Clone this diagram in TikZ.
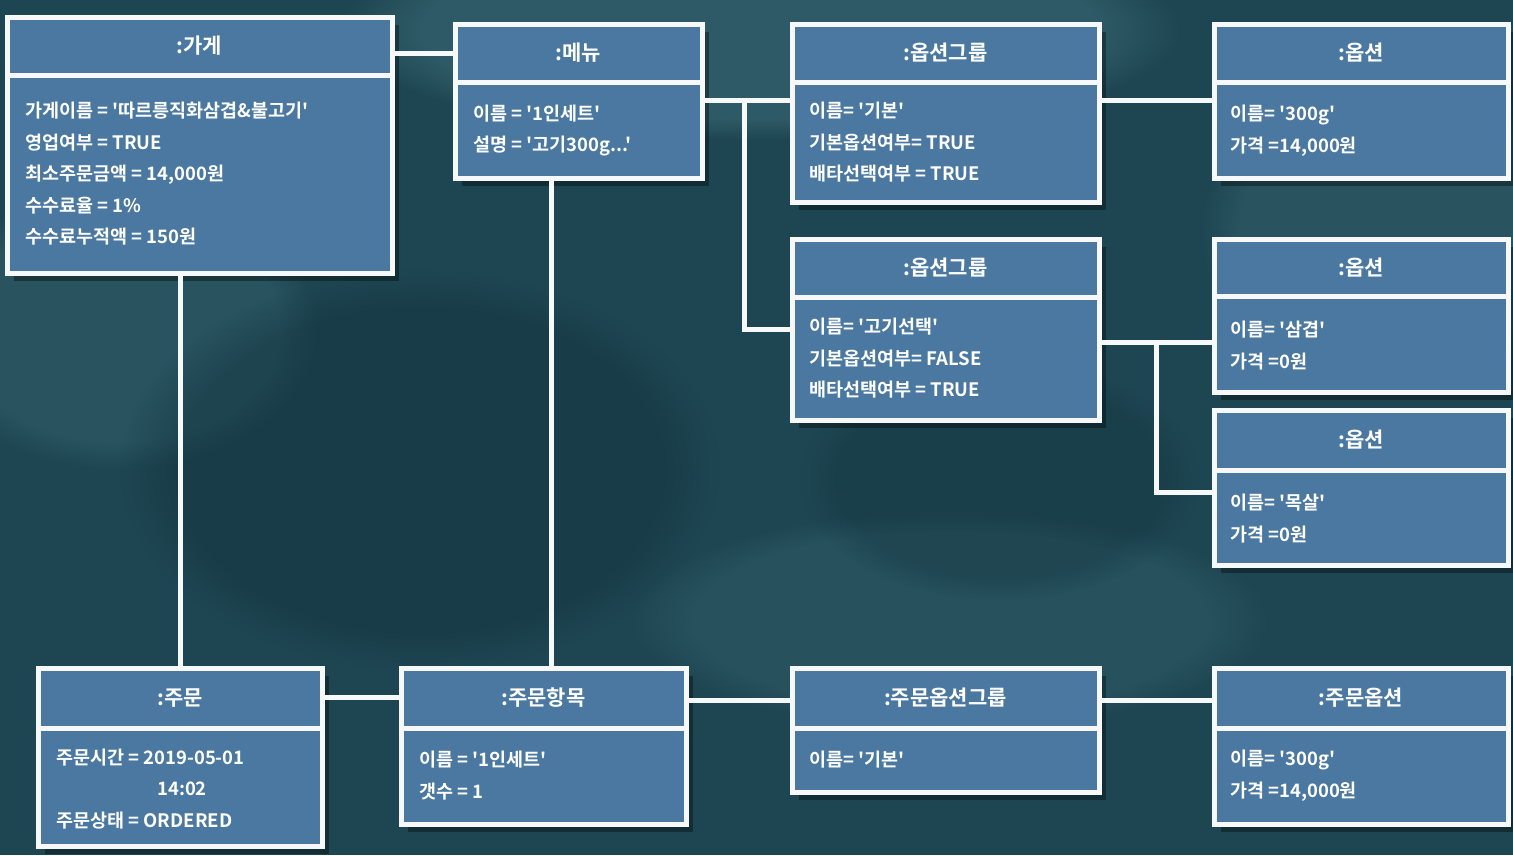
\documentclass[tikz,border=0pt]{standalone}
\usepackage{fontspec}
\newfontfamily\krfont{Noto Sans CJK KR Bold}
\usetikzlibrary{shadows,fadings,calc}
\definecolor{bg}{HTML}{1E4652}
\definecolor{bglight}{HTML}{3B6C78}
\definecolor{bgdark}{HTML}{12323C}
\definecolor{boxblue}{HTML}{4A78A0}
\definecolor{rim}{HTML}{F6F8FA}
\tikzset{
 objbox/.style={draw=rim, fill=boxblue, line width=5pt, anchor=north west, inner sep=0pt, outer sep=0pt,
   drop shadow={shadow xshift=7pt, shadow yshift=-8pt, opacity=0.35, fill=black}},
 hdrbox/.style={draw=rim, fill=boxblue, line width=5pt, anchor=north west, inner sep=0pt, outer sep=0pt,
   text=white, font=\krfont\fontsize{21}{25}\selectfont},
 bodytxt/.style={anchor=west, inner sep=0pt, align=left, text=white, font=\krfont\fontsize{18.5}{31.5}\selectfont},
 conn/.style={draw=rim, line width=5pt, line join=miter},
 blob/.style={path fading=circle with fuzzy edge 20 percent},
}
\begin{document}
\begin{tikzpicture}[x=1pt,y=-1pt]
\fill[bg] (0,0) rectangle (1513,855);
\useasboundingbox (0,0) rectangle (1513,855);
% background texture
\fill[bglight, opacity=0.55, blob] (760,30) ellipse (420 and 110);
\fill[bglight, opacity=0.35, blob] (1400,230) ellipse (200 and 160);
\fill[bglight, opacity=0.35, blob] (120,330) ellipse (200 and 140);
\fill[bglight, opacity=0.30, blob] (950,620) ellipse (320 and 110);
\fill[bgdark, opacity=0.45, blob] (420,470) ellipse (300 and 200);
\fill[bgdark, opacity=0.35, blob] (1000,480) ellipse (200 and 120);

% ---- boxes ----
\node[objbox, minimum width=385pt, minimum height=256pt] (store) at (7,17) {};
\node[hdrbox, minimum width=385pt, minimum height=58pt] (store-h) at (7,17) {:가게};
\node[bodytxt] (store-t) at (25,174) {가게이름 = '따르릉직화삼겹\&불고기'\\영업여부 = TRUE\\최소주문금액 = 14,000원\\수수료율 = 1\%\\수수료누적액 = 150원};

\node[objbox, minimum width=247pt, minimum height=154pt] (menu) at (455,24) {};
\node[hdrbox, minimum width=247pt, minimum height=58pt] (menu-h) at (455,24) {:메뉴};
\node[bodytxt] (menu-t) at (473,130.5) {이름 = '1인세트'\\설명 = '고기300g...'};

\node[objbox, minimum width=307pt, minimum height=178pt] (og1) at (792,24) {};
\node[hdrbox, minimum width=307pt, minimum height=58pt] (og1-h) at (792,24) {:옵션그룹};
\node[bodytxt] (og1-t) at (809,142.5) {이름= '기본'\\기본옵션여부= TRUE\\배타선택여부 = TRUE};

\node[objbox, minimum width=294pt, minimum height=154pt] (opt1) at (1214,24) {};
\node[hdrbox, minimum width=294pt, minimum height=58pt] (opt1-h) at (1214,24) {:옵션};
\node[bodytxt] (opt1-t) at (1230,130.5) {이름= '300g'\\가격 =14,000원};

\node[objbox, minimum width=307pt, minimum height=181pt] (og2) at (792,239) {};
\node[hdrbox, minimum width=307pt, minimum height=58pt] (og2-h) at (792,239) {:옵션그룹};
\node[bodytxt] (og2-t) at (809,358.5) {이름= '고기선택'\\기본옵션여부= FALSE\\배타선택여부 = TRUE};

\node[objbox, minimum width=294pt, minimum height=153pt] (opt2) at (1214,239) {};
\node[hdrbox, minimum width=294pt, minimum height=57pt] (opt2-h) at (1214,239) {:옵션};
\node[bodytxt] (opt2-t) at (1230,345.5) {이름= '삼겹'\\가격 =0원};

\node[objbox, minimum width=294pt, minimum height=155pt] (opt3) at (1214,410) {};
\node[hdrbox, minimum width=294pt, minimum height=60pt] (opt3-h) at (1214,410) {:옵션};
\node[bodytxt] (opt3-t) at (1230,518.5) {이름= '목살'\\가격 =0원};

\node[objbox, minimum width=284pt, minimum height=178pt] (order) at (38,668) {};
\node[hdrbox, minimum width=284pt, minimum height=60pt] (order-h) at (38,668) {:주문};
\node[bodytxt] (order-t) at (56,789) {주문시간 = 2019-05-01\\\hspace*{101pt}14:02\\주문상태 = ORDERED};

\node[objbox, minimum width=285pt, minimum height=156pt] (item) at (401,668) {};
\node[hdrbox, minimum width=285pt, minimum height=60pt] (item-h) at (401,668) {:주문항목};
\node[bodytxt] (item-t) at (419,775.5) {이름 = '1인세트'\\갯수 = 1};

\node[objbox, minimum width=307pt, minimum height=124pt] (oog) at (792,668) {};
\node[hdrbox, minimum width=307pt, minimum height=60pt] (oog-h) at (792,668) {:주문옵션그룹};
\node[bodytxt] (oog-t) at (809,760) {이름= '기본'};

\node[objbox, minimum width=294pt, minimum height=156pt] (oopt) at (1214,668) {};
\node[hdrbox, minimum width=294pt, minimum height=60pt] (oopt-h) at (1214,668) {:주문옵션};
\node[bodytxt] (oopt-t) at (1230,775.5) {이름= '300g'\\가격 =14,000원};

% ---- connector helper coordinates ----
\coordinate (ya) at (0,53);
\coordinate (ja) at (744,100);
\coordinate (jb) at (744,329);
\coordinate (jc) at (1156,342);
\coordinate (jd) at (1156,492);
\coordinate (xa) at (180,0);
\coordinate (xb) at (551,0);
\coordinate (yb) at (0,697);
\coordinate (yc) at (0,700);

% ---- connectors ----
\draw[conn] (store.east |- ya) -- (menu.west |- ya);
\draw[conn] (menu.east |- ja) -- (og1.west |- ja);
\draw[conn] (ja) -- (jb) -- (og2.west |- jb);
\draw[conn] (og1.east |- ja) -- (opt1.west |- ja);
\draw[conn] (og2.east |- jc) -- (opt2.west |- jc);
\draw[conn] (jc) -- (jd) -- (opt3.west |- jd);
\draw[conn] (store.south -| xa) -- (order.north -| xa);
\draw[conn] (menu.south -| xb) -- (item.north -| xb);
\draw[conn] (order.east |- yb) -- (item.west |- yb);
\draw[conn] (item.east |- yc) -- (oog.west |- yc);
\draw[conn] (oog.east |- yc) -- (oopt.west |- yc);
\end{tikzpicture}
\end{document}
